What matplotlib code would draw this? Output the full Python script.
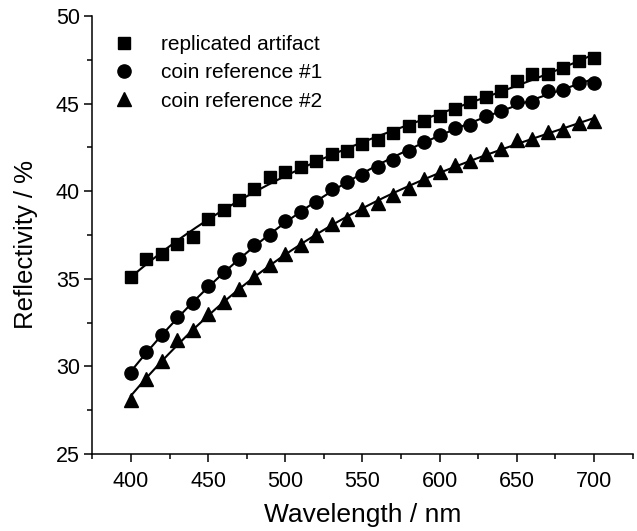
import numpy as np
import matplotlib.pyplot as plt
from matplotlib.ticker import MultipleLocator

plt.rcParams['font.family'] = ['Liberation Sans', 'DejaVu Sans']

wavelength = np.arange(400, 701, 10)

replicated = [35.1, 36.1, 36.4, 37.0, 37.4, 38.4, 38.9, 39.5, 40.1, 40.8,
              41.1, 41.4, 41.7, 42.1, 42.3, 42.7, 42.9, 43.3, 43.7, 44.0,
              44.3, 44.7, 45.1, 45.4, 45.7, 46.3, 46.7, 46.7, 47.0, 47.4, 47.6]
coin1 = [29.6, 30.8, 31.8, 32.8, 33.6, 34.6, 35.4, 36.1, 36.9, 37.5,
         38.3, 38.8, 39.4, 40.1, 40.5, 40.9, 41.4, 41.8, 42.3, 42.8,
         43.2, 43.6, 43.8, 44.3, 44.6, 45.1, 45.1, 45.7, 45.8, 46.2, 46.2]
coin2 = [28.1, 29.3, 30.3, 31.5, 32.1, 33.0, 33.7, 34.4, 35.1, 35.8,
         36.4, 36.9, 37.5, 38.1, 38.4, 39.0, 39.3, 39.8, 40.2, 40.7,
         41.1, 41.5, 41.7, 42.1, 42.4, 42.9, 43.0, 43.4, 43.5, 43.9, 44.0]

series = [(replicated, 's', 9, "replicated artifact"),
          (coin1, 'o', 9.5, "coin reference #1"),
          (coin2, '^', 10.5, "coin reference #2")]

fig = plt.figure(figsize=(6.37, 5.31), dpi=100)
ax = fig.add_axes([0.145, 0.145, 0.848, 0.825])

xs = np.linspace(400, 700, 200)
for vals, marker, ms, label in series:
    # smooth fit curve through the measured points
    coef = np.polyfit(wavelength, vals, 3)
    ax.plot(xs, np.polyval(coef, xs), color='black', lw=1.5)
    ax.plot(wavelength, vals, marker, color='black', ms=ms, ls='none', label=label)

ax.set_xlim(375, 725)
ax.set_ylim(25, 50)
ax.xaxis.set_major_locator(MultipleLocator(50))
ax.xaxis.set_minor_locator(MultipleLocator(25))
ax.yaxis.set_major_locator(MultipleLocator(5))
ax.yaxis.set_minor_locator(MultipleLocator(2.5))
ax.tick_params(which='major', direction='out', length=6, width=1.1, labelsize=15.5)
ax.tick_params(which='minor', direction='out', length=3.5, width=1.1)
ax.tick_params(axis='x', which='major', pad=6)
ax.tick_params(axis='y', which='major', pad=3)

for s in ['top', 'right']:
    ax.spines[s].set_visible(False)
for s in ['left', 'bottom']:
    ax.spines[s].set_linewidth(1.1)

ax.set_xlabel("Wavelength / nm", fontsize=19, labelpad=8)
ax.set_ylabel("Reflectivity / %", fontsize=18.5)
ax.yaxis.set_label_coords(-0.1, 0.479)

ax.legend(loc='upper left', frameon=False, fontsize=15, handletextpad=1.0,
          handlelength=1.6, borderaxespad=0.3, labelspacing=0.45,
          bbox_to_anchor=(0.0, 0.99))

fig.savefig("out.png", dpi=100)
